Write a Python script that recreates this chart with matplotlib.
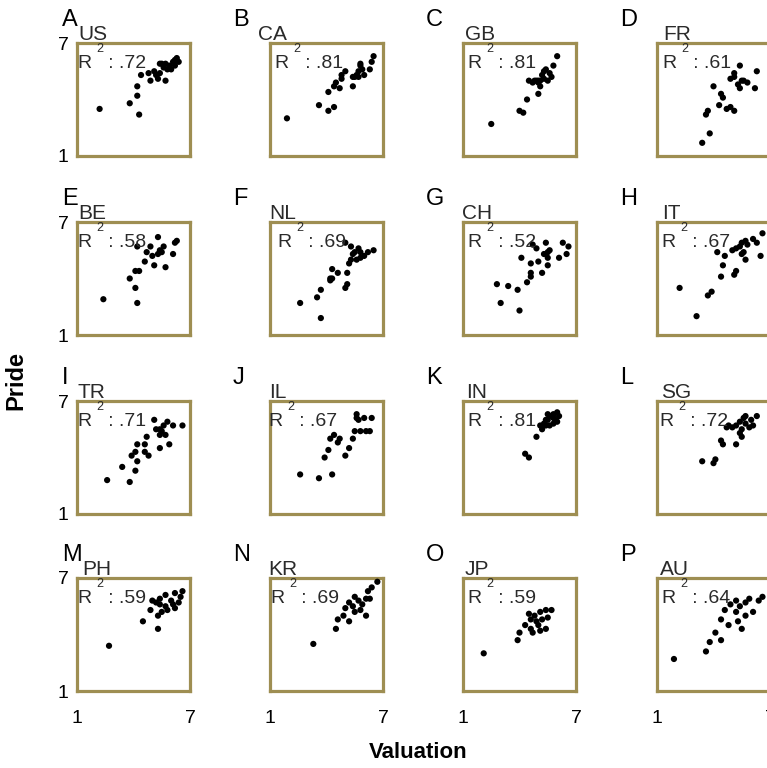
import matplotlib.pyplot as plt

plt.rcParams['font.family'] = ['Liberation Sans', 'DejaVu Sans']

# valuation (x) and pride (y)
us_val = [2.2, 3.8, 4.3, 4.2, 4.2, 4.4, 4.8, 4.9, 5.1, 5.3, 5.4, 5.7, 5.5, 5.7, 5.9, 6.0, 6.1, 6.2, 6.3, 6.4, 5.8, 5.6, 5.4, 6.2, 5.2]
us_pri = [3.5, 3.8, 3.2, 4.2, 4.7, 5.3, 5.4, 5.0, 5.5, 5.1, 5.4, 5.0, 5.9, 5.9, 5.8, 5.6, 6.0, 6.1, 6.2, 6.0, 5.6, 5.7, 5.9, 5.8, 5.3]
ca_val = [1.9, 3.6, 4.1, 4.4, 4.1, 4.4, 4.5, 4.7, 4.8, 4.8, 5.0, 5.4, 5.4, 5.5, 5.6, 5.7, 5.8, 5.8, 5.9, 6.3, 6.4, 6.5, 5.7, 6.0]
ca_pri = [3.0, 3.7, 3.4, 3.6, 4.4, 4.7, 4.9, 4.6, 5.1, 5.3, 5.5, 4.7, 5.2, 5.2, 5.3, 5.5, 5.8, 5.9, 5.6, 5.6, 6.0, 6.3, 5.2, 5.3]
gb_val = [2.5, 4.0, 4.2, 4.4, 5.0, 5.1, 4.5, 4.7, 4.9, 5.0, 5.1, 5.2, 5.3, 5.4, 5.6, 5.7, 5.5, 5.8, 6.0, 5.3, 5.0, 4.8]
gb_pri = [2.7, 3.4, 3.3, 4.0, 4.3, 4.7, 5.0, 4.9, 5.0, 4.9, 5.0, 5.3, 5.5, 5.6, 5.4, 5.2, 5.0, 5.8, 6.3, 5.1, 5.0, 5.0]
fr_val = [3.4, 3.8, 3.6, 3.7, 4.3, 4.5, 4.4, 4.7, 4.9, 5.1, 4.0, 4.9, 5.1, 5.4, 5.3, 5.5, 5.6, 5.8, 5.4, 6.3, 6.2, 5.1]
fr_pri = [1.7, 2.2, 3.2, 3.4, 3.7, 4.1, 4.3, 3.5, 3.6, 3.4, 4.7, 5.1, 5.4, 5.8, 4.8, 5.0, 5.0, 4.9, 4.6, 5.5, 4.6, 5.2]
be_val = [2.4, 4.2, 4.1, 3.8, 4.1, 4.3, 4.6, 4.7, 4.2, 5.0, 5.1, 5.3, 5.4, 5.4, 5.6, 5.3, 5.5, 5.7, 6.1, 6.3, 6.2, 4.9]
be_pri = [2.9, 2.7, 3.5, 4.0, 4.4, 4.4, 4.9, 5.4, 5.7, 5.2, 4.7, 5.3, 5.5, 5.4, 5.7, 6.2, 5.4, 4.6, 5.3, 6.0, 5.9, 5.7]
nl_val = [2.6, 3.7, 3.5, 3.7, 4.2, 4.3, 4.3, 4.6, 4.2, 5.0, 5.1, 5.1, 5.2, 5.3, 5.4, 5.5, 5.7, 5.6, 5.8, 6.0, 6.2, 6.5, 5.0, 5.3, 5.8]
nl_pri = [2.7, 1.9, 3.0, 3.4, 3.9, 4.0, 4.5, 4.3, 4.0, 3.5, 3.7, 4.3, 4.8, 5.0, 5.3, 5.4, 5.6, 5.0, 5.1, 5.2, 5.4, 5.5, 5.9, 5.7, 5.4]
ch_val = [3.0, 4.0, 2.8, 3.4, 3.9, 4.4, 4.6, 4.6, 4.1, 4.6, 5.0, 5.2, 5.5, 5.5, 5.5, 5.6, 4.7, 4.9, 5.4, 6.1, 6.3, 6.6, 6.5, 5.3]
ch_pri = [2.7, 2.3, 3.7, 3.6, 3.4, 3.8, 4.1, 4.3, 5.1, 4.8, 4.9, 4.3, 4.7, 5.1, 5.4, 5.5, 5.8, 5.6, 5.9, 5.1, 5.9, 5.7, 5.3, 5.3]
it_val = [2.2, 3.1, 3.7, 3.9, 4.4, 4.5, 5.1, 5.2, 4.2, 4.6, 5.0, 5.2, 5.4, 5.5, 5.7, 5.8, 5.5, 5.7, 6.1, 6.3, 6.5, 6.6, 5.6]
it_pri = [3.5, 2.0, 3.1, 3.3, 4.1, 4.7, 4.2, 4.4, 5.4, 5.2, 5.5, 5.6, 5.7, 5.9, 6.0, 5.8, 5.3, 5.0, 6.1, 5.9, 5.2, 6.4, 5.4]
tr_val = [2.6, 3.8, 4.1, 3.4, 3.9, 4.1, 4.2, 4.2, 4.6, 4.6, 4.8, 4.7, 5.1, 5.2, 5.4, 5.4, 5.5, 5.6, 5.8, 5.7, 5.9, 6.1, 6.6, 5.4]
tr_pri = [2.8, 2.7, 3.3, 3.5, 4.1, 4.3, 3.8, 4.7, 4.7, 4.3, 4.1, 5.1, 6.0, 5.5, 5.2, 4.5, 5.4, 5.7, 5.9, 5.2, 4.7, 5.7, 5.7, 5.5]
il_val = [2.6, 3.6, 4.3, 3.9, 4.1, 4.2, 4.4, 4.6, 4.7, 5.0, 5.2, 5.4, 5.5, 5.8, 6.3, 6.1, 5.6, 5.7, 6.0, 6.4, 5.6]
il_pri = [3.1, 2.9, 3.1, 4.0, 4.4, 5.0, 5.2, 4.8, 5.0, 4.1, 4.5, 5.0, 5.4, 5.4, 5.4, 5.4, 6.3, 6.0, 6.1, 6.1, 6.1]
in_val = [4.5, 4.3, 4.9, 5.1, 5.3, 5.5, 5.7, 5.8, 6.0, 6.1, 5.9, 5.8, 5.4, 5.6, 5.2, 5.5, 5.8, 6.0, 5.4]
in_pri = [4.0, 4.2, 5.1, 5.7, 5.8, 6.0, 6.2, 6.3, 6.4, 6.2, 6.0, 5.8, 5.7, 5.7, 5.5, 6.3, 6.1, 5.9, 6.0]
sg_val = [3.4, 4.0, 4.1, 4.4, 4.5, 5.2, 5.5, 4.7, 4.8, 5.0, 5.2, 5.4, 5.6, 5.7, 5.5, 5.9, 6.1, 6.3, 5.7, 5.4, 6.0]
sg_pri = [3.8, 3.7, 3.9, 4.9, 4.7, 4.7, 5.1, 5.6, 5.7, 5.6, 5.7, 5.9, 6.1, 5.8, 5.5, 5.6, 5.7, 6.2, 6.2, 5.3, 6.0]
ph_val = [2.7, 4.5, 5.3, 4.9, 5.2, 5.4, 5.7, 6.0, 6.2, 6.5, 6.6, 5.5, 5.8, 6.1, 6.4, 5.3, 5.0, 5.7, 6.2, 5.4]
ph_pri = [3.4, 4.7, 4.3, 5.3, 5.7, 5.9, 5.5, 5.8, 6.2, 6.0, 6.3, 5.2, 5.3, 5.6, 5.7, 5.0, 5.8, 6.1, 5.4, 5.6]
kr_val = [3.3, 4.5, 4.6, 4.9, 5.2, 5.4, 5.5, 5.7, 5.9, 6.1, 6.2, 6.4, 6.7, 5.2, 5.0, 5.8, 6.1, 5.5, 6.3]
kr_pri = [3.5, 4.3, 4.8, 5.0, 4.7, 5.5, 5.2, 5.8, 5.6, 5.9, 6.3, 6.5, 6.8, 5.7, 5.4, 5.3, 5.0, 6.0, 5.9]
jp_val = [2.1, 3.9, 4.0, 4.3, 4.6, 4.8, 5.1, 5.4, 5.7, 4.6, 5.0, 5.2, 4.5, 4.9, 5.4, 4.7, 5.1, 5.5]
jp_pri = [3.0, 3.7, 4.1, 4.5, 4.8, 5.0, 5.2, 5.3, 5.3, 4.3, 4.5, 4.8, 5.1, 4.7, 4.3, 4.1, 4.2, 4.9]
au_val = [1.9, 3.6, 3.8, 4.1, 4.4, 4.6, 4.9, 5.2, 5.4, 5.7, 5.9, 6.4, 6.6, 4.8, 5.3, 5.7, 6.1, 4.4, 5.2, 5.5]
au_pri = [2.7, 3.1, 3.6, 4.1, 4.8, 5.3, 5.6, 5.8, 5.5, 5.7, 5.9, 5.8, 6.0, 4.5, 4.7, 5.0, 5.2, 3.7, 5.2, 4.3]

countries = ["US", "CA", "GB", "FR", "BE", "NL", "CH", "IT",
             "TR", "IL", "IN", "SG", "PH", "KR", "JP", "AU"]
r2_text = [".72", ".81", ".81", ".61", ".58", ".69", ".52", ".67",
           ".71", ".67", ".81", ".72", ".59", ".69", ".59", ".64"]
letters = "ABCDEFGHIJKLMNOP"
vals = [us_val, ca_val, gb_val, fr_val, be_val, nl_val, ch_val, it_val,
        tr_val, il_val, in_val, sg_val, ph_val, kr_val, jp_val, au_val]
pris = [us_pri, ca_pri, gb_pri, fr_pri, be_pri, nl_pri, ch_pri, it_pri,
        tr_pri, il_pri, in_pri, sg_pri, ph_pri, kr_pri, jp_pri, au_pri]

W, H = 767, 768
fig = plt.figure(figsize=(W / 100, H / 100), dpi=100)

col_left = [77, 270, 463, 657]
row_top = [43, 222, 401, 578]
box = 113
letter_x = [62, 233, 426, 620]
# country label offset from panel left edge (px)
code_dx = [1, -12, 2, 6, 1, -1, -1, 5, 1, -1, 3, 4, 5, -2, 2, 3]
r_dx = [1, 5, 5, 6, 1, 8, 5, 5, 1, -1, 5, 3, 1, 1, 5, 5]
frame_col = '#9e8e52'
txt_col = '#2a2a2a'


def fx(x):
    return x / W


def fy(y):
    return 1 - y / H


for i in range(16):
    r, c = divmod(i, 4)
    L, T = col_left[c], row_top[r]
    ax = fig.add_axes([fx(L), fy(T + box), box / W, box / H])
    ax.scatter(vals[i], pris[i], s=20, color='black', edgecolors='none', zorder=3)
    ax.set_xlim(1, 7)
    ax.set_ylim(1, 7)
    for sp in ax.spines.values():
        sp.set_color(frame_col)
        sp.set_linewidth(2.3)
    ax.set_xticks([1, 7])
    ax.set_yticks([1, 7])
    ax.tick_params(length=0, labelsize=14, pad=6)
    if c == 0:
        ax.set_yticklabels(["1", "7"])
    else:
        ax.set_yticklabels([])
    if r == 3:
        ax.set_xticklabels(["1", "7"])
        ax.tick_params(axis='x', pad=14)
    else:
        ax.set_xticklabels([])

    fig.text(fx(letter_x[c]), fy(T - 17), letters[i], fontsize=17, va='baseline')
    fig.text(fx(L + code_dx[i]), fy(T - 3), countries[i], fontsize=15,
             va='baseline', color=txt_col)
    fig.text(fx(L + r_dx[i]), fy(T + 25), "R   : " + r2_text[i], fontsize=14,
             va='baseline', color=txt_col)
    fig.text(fx(L + r_dx[i] + 18), fy(T + 9), "2", fontsize=9,
             va='baseline', color=txt_col)

fig.text(fx(418), fy(752), "Valuation", fontsize=16, fontweight='bold',
         ha='center', va='center')
fig.text(fx(16), fy(380), "Pride", fontsize=17, fontweight='bold',
         rotation=90, ha='center', va='center')

fig.savefig('out.png', dpi=100)
